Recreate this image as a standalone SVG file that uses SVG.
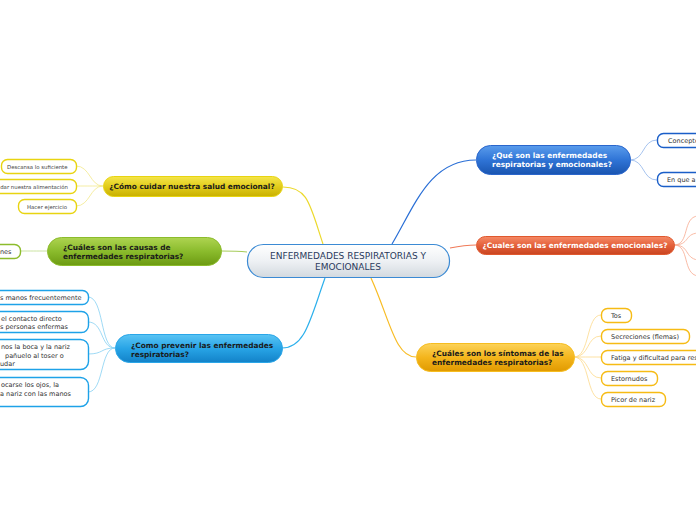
<svg xmlns="http://www.w3.org/2000/svg" width="696" height="520" viewBox="0 0 696 520">
<defs>
<linearGradient id="gCenter" x1="0" y1="0" x2="0" y2="1"><stop offset="0" stop-color="#ffffff"/><stop offset="0.5" stop-color="#eef1f4"/><stop offset="1" stop-color="#d3d9df"/></linearGradient>
<linearGradient id="gBlue" x1="0" y1="0" x2="0" y2="1"><stop offset="0" stop-color="#5a9cec"/><stop offset="0.5" stop-color="#2f74d6"/><stop offset="1" stop-color="#1a55b0"/></linearGradient>
<linearGradient id="gRed" x1="0" y1="0" x2="0" y2="1"><stop offset="0" stop-color="#f58a66"/><stop offset="0.5" stop-color="#e4603a"/><stop offset="1" stop-color="#c94420"/></linearGradient>
<linearGradient id="gOrange" x1="0" y1="0" x2="0" y2="1"><stop offset="0" stop-color="#fcd35a"/><stop offset="0.5" stop-color="#f4b51c"/><stop offset="1" stop-color="#e09a00"/></linearGradient>
<linearGradient id="gYellow" x1="0" y1="0" x2="0" y2="1"><stop offset="0" stop-color="#f5e64a"/><stop offset="0.5" stop-color="#e2cc1c"/><stop offset="1" stop-color="#c8b000"/></linearGradient>
<linearGradient id="gGreen" x1="0" y1="0" x2="0" y2="1"><stop offset="0" stop-color="#aed451"/><stop offset="0.5" stop-color="#8abb2c"/><stop offset="1" stop-color="#6c9a12"/></linearGradient>
<linearGradient id="gSky" x1="0" y1="0" x2="0" y2="1"><stop offset="0" stop-color="#5ac4f4"/><stop offset="0.5" stop-color="#28a4e6"/><stop offset="1" stop-color="#1282c8"/></linearGradient>
</defs>
<style>
.main{font-family:"DejaVu Sans",Verdana,sans-serif;font-weight:bold;font-size:7.4px}
.wt{fill:#ffffff}
.dk{fill:#1a1a1a}
.ctr{font-family:"DejaVu Sans",Verdana,sans-serif;font-size:9px;fill:#2a3a5c}
.ch{font-family:"DejaVu Sans",Verdana,sans-serif;font-size:6.5px;fill:#333333}
.chs{font-family:"DejaVu Sans",Verdana,sans-serif;font-size:5.4px;fill:#444444}
.box{fill:#ffffff;stroke-width:1.4}
.con{fill:none;stroke-width:1.2}
.sub{fill:none;stroke-width:0.8}
</style>

<g id="connectors">
<path class="con" stroke="#2a6fd6" d="M392,244 C415,205 430,160 476,160"/>
<path class="con" stroke="#f07a58" d="M450,248 C460,246 466,245 476,245"/>
<path class="con" stroke="#f8bc24" d="M371,278 C390,320 395,357 416,357"/>
<path class="con" stroke="#ecd92c" d="M323,244 C310,205 308,187 283,187"/>
<path class="con" stroke="#a6cc5a" d="M247,252 C238,251 230,251 221,251"/>
<path class="con" stroke="#2cb0ec" d="M325,278 C310,320 305,348 282,348"/>

<path class="sub" stroke="#8fb4ea" d="M630,160 C645,160 642,140 657,140"/>
<path class="sub" stroke="#8fb4ea" d="M630,160 C645,160 642,180 657,180"/>

<path class="sub" stroke="#f8a98f" d="M674,245 C690,245 682,217 698,216"/>
<path class="sub" stroke="#f8a98f" d="M674,245 C690,245 684,234 698,233"/>
<path class="sub" stroke="#f8a98f" d="M674,245 C690,245 684,258 698,260"/>
<path class="sub" stroke="#f8a98f" d="M674,245 C690,245 682,274 698,276"/>

<path class="sub" stroke="#fcd98a" d="M574,357 C590,357 586,315 601,315"/>
<path class="sub" stroke="#fcd98a" d="M574,357 C590,357 586,336 601,336"/>
<path class="sub" stroke="#fcd98a" d="M574,357 C590,357 586,357 601,357"/>
<path class="sub" stroke="#fcd98a" d="M574,357 C590,357 586,378 601,378"/>
<path class="sub" stroke="#fcd98a" d="M574,357 C590,357 586,399 601,399"/>

<path class="sub" stroke="#f2e88a" d="M103,186 C90,186 90,166 76,166"/>
<path class="sub" stroke="#f2e88a" d="M103,186 C90,186 90,186 76,186"/>
<path class="sub" stroke="#f2e88a" d="M103,186 C90,186 90,206 76,206"/>

<path class="sub" stroke="#bcdc88" d="M47,251 C35,251 32,251 20,251"/>

<path class="sub" stroke="#86d0f2" d="M115,348 C100,348 104,297 88,297"/>
<path class="sub" stroke="#86d0f2" d="M115,348 C100,348 104,322 88,322"/>
<path class="sub" stroke="#86d0f2" d="M115,348 C100,348 104,354 88,354"/>
<path class="sub" stroke="#86d0f2" d="M115,348 C100,348 104,392 88,392"/>
</g>

<g id="center">
<rect x="247.5" y="244.5" width="202" height="33" rx="16" fill="url(#gCenter)" stroke="#3b8ad4" stroke-width="1.2"/>
<text class="ctr" x="348" y="259" text-anchor="middle">ENFERMEDADES RESPIRATORIAS Y</text>
<text class="ctr" x="348" y="270" text-anchor="middle">EMOCIONALES</text>
</g>

<g id="n-que-son">
<rect x="476.5" y="145.5" width="154" height="29" rx="14" fill="url(#gBlue)" stroke="#2a66cc" stroke-width="1"/>
<text class="main wt" x="492" y="158">¿Qué son las enfermedades</text>
<text class="main wt" x="492" y="167">respiratorias y emocionales?</text>
</g>
<g id="c-concepto">
<rect class="box" x="657.5" y="133.5" width="60" height="14" rx="6" stroke="#1a5ec8"/>
<text class="ch" x="668" y="142.5">Concepto</text>
</g>
<g id="c-en-que">
<rect class="box" x="657.5" y="172.5" width="60" height="14" rx="6" stroke="#1a5ec8"/>
<text class="ch" x="667" y="182">En que a</text>
</g>

<g id="n-emocionales">
<rect x="476.5" y="236.5" width="198" height="18" rx="9" fill="url(#gRed)" stroke="#e0582e" stroke-width="1"/>
<text class="main wt" x="575" y="248" text-anchor="middle">¿Cuales son las enfermedades emocionales?</text>
</g>

<g id="n-sintomas">
<rect x="416.5" y="343.5" width="158" height="28" rx="14" fill="url(#gOrange)" stroke="#f6bd20" stroke-width="1"/>
<text class="main dk" x="432" y="356">¿Cuáles son los síntomas de las</text>
<text class="main dk" x="432" y="365">enfermedades respiratorias?</text>
</g>
<g id="c-tos">
<rect class="box" x="601.5" y="308.5" width="30" height="14" rx="6" stroke="#f6bb14"/>
<text class="ch" x="611" y="318">Tos</text>
</g>
<g id="c-secreciones">
<rect class="box" x="601.5" y="329.5" width="88" height="14" rx="6" stroke="#f6bb14"/>
<text class="ch" x="611" y="339">Secreciones (flemas)</text>
</g>
<g id="c-fatiga">
<rect class="box" x="601.5" y="350.5" width="110" height="14" rx="6" stroke="#f6bb14"/>
<text class="ch" x="611" y="360">Fatiga y dificultad para res</text>
</g>
<g id="c-estornudos">
<rect class="box" x="601.5" y="371.5" width="56" height="14" rx="6" stroke="#f6bb14"/>
<text class="ch" x="611" y="381">Estornudos</text>
</g>
<g id="c-picor">
<rect class="box" x="601.5" y="392.5" width="64" height="14" rx="6" stroke="#f6bb14"/>
<text class="ch" x="611" y="402">Picor de nariz</text>
</g>

<g id="n-cuidar">
<rect x="103.5" y="176.5" width="179" height="20" rx="10" fill="url(#gYellow)" stroke="#e8d410" stroke-width="1"/>
<text class="main dk" x="192" y="189" text-anchor="middle">¿Cómo cuidar nuestra salud emocional?</text>
</g>
<g id="c-descansa">
<rect class="box" x="1.5" y="159.5" width="75" height="14" rx="6" stroke="#e8d410"/>
<text class="chs" x="7" y="168.5">Descansa lo suficiente</text>
</g>
<g id="c-alimentacion">
<rect class="box" x="-20.5" y="179.5" width="97" height="14" rx="6" stroke="#e8d410"/>
<text class="chs" x="68" y="188.5" text-anchor="end">dar nuestra alimentación</text>
</g>
<g id="c-ejercicio">
<rect class="box" x="18.5" y="199.5" width="58" height="14" rx="6" stroke="#e8d410"/>
<text class="chs" x="27" y="208.5">Hacer ejercicio</text>
</g>

<g id="n-causas">
<rect x="47.5" y="237.5" width="174" height="28" rx="14" fill="url(#gGreen)" stroke="#8cbc2c" stroke-width="1"/>
<text class="main dk" x="63" y="250">¿Cuáles son las causas de</text>
<text class="main dk" x="63" y="259">enfermedades respiratorias?</text>
</g>
<g id="c-nes">
<rect class="box" x="-30.5" y="244.5" width="51" height="14" rx="6" stroke="#8cbc2c"/>
<text class="ch" x="0" y="254">nes</text>
</g>

<g id="n-prevenir">
<rect x="115.5" y="334.5" width="167" height="28" rx="14" fill="url(#gSky)" stroke="#2aa6e8" stroke-width="1"/>
<text class="main dk" x="131" y="347.5">¿Como prevenir las enfermedades</text>
<text class="main dk" x="131" y="356.5">respiratorias?</text>
</g>
<g id="c-manos">
<rect class="box" x="-30.5" y="290.5" width="119" height="14" rx="6" stroke="#1ea2e8"/>
<text class="ch" x="0" y="300">s manos frecuentemente</text>
</g>
<g id="c-contacto">
<rect class="box" x="-30.5" y="311.5" width="119" height="21" rx="7" stroke="#1ea2e8"/>
<text class="ch" x="1" y="320.5">el contacto directo</text>
<text class="ch" x="0" y="328.5">s personas enfermas</text>
</g>
<g id="c-boca">
<rect class="box" x="-30.5" y="339.5" width="119" height="30" rx="8" stroke="#1ea2e8"/>
<text class="ch" x="1" y="349">nos la boca y la nariz</text>
<text class="ch" x="5" y="357.5">pañuelo al toser o</text>
<text class="ch" x="0" y="366">udar</text>
</g>
<g id="c-ojos">
<rect class="box" x="-30.5" y="377.5" width="119" height="29" rx="8" stroke="#1ea2e8"/>
<text class="ch" x="1" y="387">ocarse los ojos, la</text>
<text class="ch" x="0" y="395.5">a nariz con las manos</text>
</g>
</svg>
